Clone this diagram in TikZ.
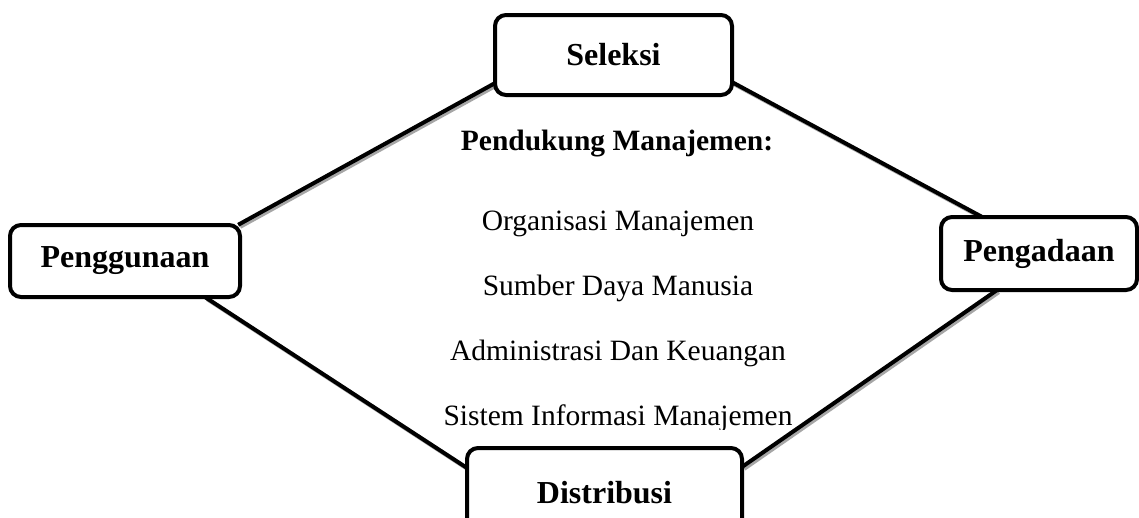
\documentclass[tikz,border=0pt]{standalone}
\usepackage{fontspec}
\setmainfont{Liberation Serif}
\usetikzlibrary{calc}
\tikzset{
  stage/.style={draw=black, line width=4pt, rounded corners=11pt, fill=white, inner sep=0pt,
                font=\fontsize{32}{38}\selectfont\bfseries},
  link/.style={line width=4pt, black},
  linkshadow/.style={line width=4pt, black!35},
  body/.style={font=\fontsize{29.5}{34}\selectfont, anchor=base, inner sep=0pt},
}
\begin{document}
\begin{tikzpicture}[x=1pt,y=-1pt]
\clip (0,0) rectangle (1139,517);
\fill[white] (0,0) rectangle (1139,517);
\path
  (613.5,55) coordinate (selc)
  (125,261) coordinate (pgc)
  (1039,253.5) coordinate (pac)
  (604.5,493) coordinate (dic);
% invisible nodes for anchors
\node[minimum width=237pt, minimum height=80pt, inner sep=0pt] (sel) at (selc) {};
\node[minimum width=230pt, minimum height=72pt, inner sep=0pt] (pg) at (pgc) {};
\node[minimum width=196pt, minimum height=73pt, inner sep=0pt] (pa) at (pac) {};
\node[minimum width=275pt, minimum height=90pt, inner sep=0pt] (di) at (dic) {};
% connector end points
\coordinate (a1) at ($(pg.north east)+(-2,0)$);
\coordinate (b1) at ($(sel.south west)+(0,-12)$);
\coordinate (a2) at ($(sel.south east)+(0,-13)$);
\coordinate (b2) at ($(pa.north west)+(41,0)$);
\coordinate (a3) at ($(pa.south west)+(56,0)$);
\coordinate (b3) at ($(di.north east)+(0,19)$);
\coordinate (a4) at ($(pg.south east)+(-35,0)$);
\coordinate (b4) at ($(di.north west)+(0,20)$);
\foreach \a/\b in {a1/b1,a2/b2,a3/b3,a4/b4}{
  \draw[linkshadow] ([shift={(2,2)}]\a) -- ([shift={(2,2)}]\b);
  \draw[link] (\a) -- (\b);
}
% central text
\node[body, font=\fontsize{29.5}{34}\selectfont\bfseries] (pm) at (617,150) {Pendukung Manajemen:};
\node[body] (om) at (618,230) {Organisasi Manajemen};
\node[body] (sd) at (618,295) {Sumber Daya Manusia};
\node[body] (ak) at (618,360) {Administrasi Dan Keuangan};
\begin{scope}
\clip (400,380) rectangle (800,429);
\node[body] (si) at (618,425) {Sistem Informasi Manajemen};
\end{scope}
% visible boxes
\node[stage, minimum width=237pt, minimum height=80pt] (selb) at (selc) {Seleksi};
\node[stage, minimum width=230pt, minimum height=72pt] (pgb) at (pgc) {Penggunaan};
\node[stage, minimum width=196pt, minimum height=73pt] (pab) at (pac) {Pengadaan};
\node[stage, minimum width=275pt, minimum height=90pt] (dib) at (dic) {Distribusi};
\end{tikzpicture}
\end{document}
